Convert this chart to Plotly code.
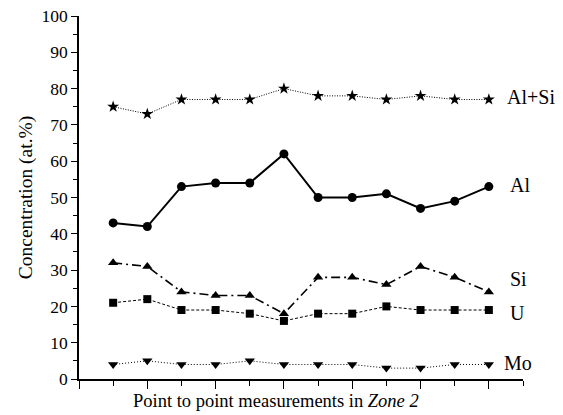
import plotly.graph_objects as go

points = list(range(1, 13))
al_si = [75, 73, 77, 77, 77, 80, 78, 78, 77, 78, 77, 77]
al = [43, 42, 53, 54, 54, 62, 50, 50, 51, 47, 49, 53]
si = [32, 31, 24, 23, 23, 18, 28, 28, 26, 31, 28, 24]
u = [21, 22, 19, 19, 18, 16, 18, 18, 20, 19, 19, 19]
mo = [4, 5, 4, 4, 5, 4, 4, 4, 3, 3, 4, 4]
series_names = ["Al+Si", "Al", "Si", "U", "Mo"]
label_x = [12.47, 12.56, 12.56, 12.56, 12.39]
label_y = [77.7, 53.4, 27.5, 18.2, 4.4]

FONT = "Liberation Serif"

fig = go.Figure()
specs = [
    (al_si, "star", 9, "1px,1.5px", 1),
    (al, "circle", 9, "solid", 2),
    (si, "triangle-up", 9, "9px,4px,2px,4px", 1.6),
    (u, "square", 8, "3px,2px", 1),
    (mo, "triangle-down", 9, "1px,2px", 1),
]
for name, (vals, sym, size, dash, w) in zip(series_names, specs):
    fig.add_trace(go.Scatter(
        x=points, y=vals, mode="lines+markers", name=name,
        line=dict(color="black", width=w, dash=dash),
        marker=dict(symbol=sym, size=size, color="black"),
        showlegend=False,
    ))

for name, xv, yv in zip(series_names, label_x, label_y):
    fig.add_annotation(x=xv, y=yv, xref="x", yref="y", text=name,
                       showarrow=False, xanchor="left", yanchor="middle",
                       font=dict(family=FONT, size=20, color="black"))

fig.update_layout(
    width=555, height=407,
    margin=dict(l=71, r=40, t=8, b=36),
    paper_bgcolor="white", plot_bgcolor="white",
    font=dict(family=FONT, size=18, color="black"),
)
fig.update_xaxes(
    range=[0, 13], tickvals=list(range(0, 14, 2)), ticktext=[""] * 7,
    ticks="outside", ticklen=8, tickwidth=1, tickcolor="black",
    minor=dict(tickvals=list(range(1, 14, 2)), ticks="outside", ticklen=5, tickwidth=1, tickcolor="black"),
    showline=True, linecolor="black", linewidth=1.5, showgrid=False, zeroline=False,
    automargin=False,
)
fig.update_yaxes(
    range=[0, 100], tickvals=list(range(0, 101, 10)),
    ticks="outside", ticklen=6, tickwidth=1, tickcolor="black",
    minor=dict(tickvals=list(range(5, 100, 10)), ticks="outside", ticklen=4, tickwidth=1, tickcolor="black"),
    showline=True, linecolor="black", linewidth=1.5, showgrid=False, zeroline=False,
    tickfont=dict(family=FONT, size=17.5), ticklabeloverflow="allow", automargin=False,
    title=dict(text="Concentration (at.%)", font=dict(family=FONT, size=19.5), standoff=4),
)
fig.add_annotation(x=(275.5 - 79) / 444, y=-(400.5 - 379) / 363, xref="paper", yref="paper",
                   text="Point to point measurements in <i>Zone 2</i>", showarrow=False,
                   xanchor="center", yanchor="middle", font=dict(family=FONT, size=18.5, color="black"))
fig.write_html("out.html")
